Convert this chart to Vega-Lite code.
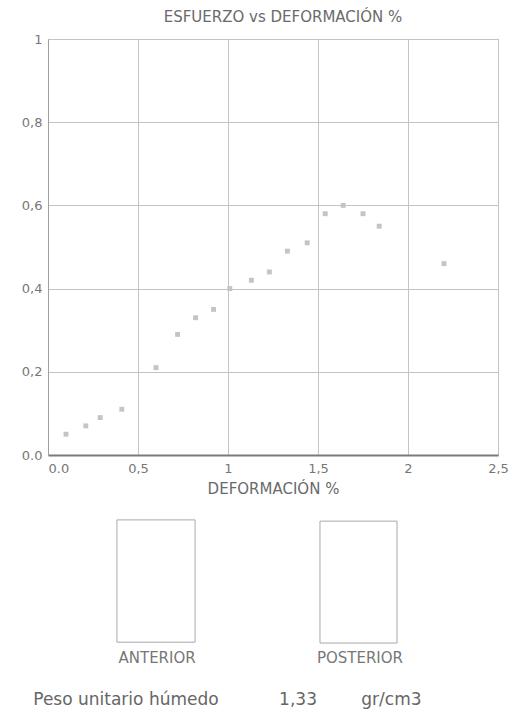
{
  "$schema": "https://vega.github.io/schema/vega-lite/v6.json",
  "width": 450,
  "height": 416,
  "autosize": {"type": "none"},
  "padding": {"left": 48, "top": 39, "right": 19, "bottom": 258},
  "background": "white",
  "config": {
    "view": {"stroke": "#9a9a9a", "strokeWidth": 1},
    "font": "DejaVu Sans"
  },
  "title": {
    "text": "ESFUERZO vs DEFORMACIÓN %",
    "font": "DejaVu Sans",
    "fontSize": 15,
    "fontWeight": "normal",
    "color": "#6a6a6a",
    "dx": 10,
    "offset": 8
  },
  "layer": [
    {
      "data": {
        "values": [
          {"def": 0.10, "esf": 0.05},
          {"def": 0.21, "esf": 0.07},
          {"def": 0.29, "esf": 0.09},
          {"def": 0.41, "esf": 0.11},
          {"def": 0.60, "esf": 0.21},
          {"def": 0.72, "esf": 0.29},
          {"def": 0.82, "esf": 0.33},
          {"def": 0.92, "esf": 0.35},
          {"def": 1.01, "esf": 0.40},
          {"def": 1.13, "esf": 0.42},
          {"def": 1.23, "esf": 0.44},
          {"def": 1.33, "esf": 0.49},
          {"def": 1.44, "esf": 0.51},
          {"def": 1.54, "esf": 0.58},
          {"def": 1.64, "esf": 0.60},
          {"def": 1.75, "esf": 0.58},
          {"def": 1.84, "esf": 0.55},
          {"def": 2.20, "esf": 0.46}
        ]
      },
      "mark": {"type": "point", "shape": "square", "filled": true, "size": 24, "color": "#c4c4c4", "opacity": 1},
      "encoding": {
        "x": {
          "field": "def",
          "type": "quantitative",
          "scale": {"domain": [0, 2.5], "nice": false, "zero": false},
          "axis": {
            "title": "DEFORMACIÓN %",
            "titleFont": "DejaVu Sans",
            "titleFontSize": 15,
            "titleFontWeight": "normal",
            "titleColor": "#6a6a6a",
            "titlePadding": 6,
            "values": [0, 0.5, 1, 1.5, 2, 2.5],
            "labelExpr": "datum.value == 0 ? '0.0' : replace(toString(datum.value), '.', ',')",
            "labelFont": "DejaVu Sans",
            "labelFontSize": 13,
            "labelColor": "#777777",
            "labelPadding": 7,
            "labelFlush": false,
            "labelAlign": {"condition": {"test": "datum.value == 0", "value": "left"}, "value": "center"},
            "ticks": false,
            "grid": true,
            "gridColor": "#c4c4c4",
            "domainColor": "#7a7a7a",
            "domainWidth": 2
          }
        },
        "y": {
          "field": "esf",
          "type": "quantitative",
          "scale": {"domain": [0, 1], "nice": false, "zero": false},
          "axis": {
            "title": null,
            "values": [0, 0.2, 0.4, 0.6, 0.8, 1],
            "labelExpr": "datum.value == 0 ? '0.0' : replace(toString(datum.value), '.', ',')",
            "labelFont": "DejaVu Sans",
            "labelFontSize": 13,
            "labelColor": "#777777",
            "labelPadding": 6,
            "ticks": false,
            "grid": true,
            "gridColor": "#c4c4c4",
            "domainColor": "#a0a0a0"
          }
        }
      }
    },
    {
      "data": {
        "values": [
          {"x1": 0.383, "x2": 0.817, "y1": -0.156, "y2": -0.450},
          {"x1": 1.511, "x2": 1.939, "y1": -0.159, "y2": -0.452}
        ]
      },
      "mark": {"type": "rect", "fill": null, "fillOpacity": 0, "stroke": "#a8a8a8", "strokeWidth": 1, "clip": false},
      "encoding": {
        "x": {"field": "x1", "type": "quantitative"},
        "x2": {"field": "x2"},
        "y": {"field": "y1", "type": "quantitative"},
        "y2": {"field": "y2"}
      }
    },
    {
      "data": {
        "values": [
          {"label": "ANTERIOR", "x": 0.606, "y": -0.488},
          {"label": "POSTERIOR", "x": 1.733, "y": -0.488}
        ]
      },
      "mark": {"type": "text", "font": "DejaVu Sans", "fontSize": 15, "color": "#777777", "align": "center", "baseline": "middle", "clip": false},
      "encoding": {
        "x": {"field": "x", "type": "quantitative"},
        "y": {"field": "y", "type": "quantitative"},
        "text": {"field": "label"}
      }
    },
    {
      "data": {
        "values": [
          {"label": "Peso unitario húmedo", "x": 0.433, "y": -0.589},
          {"label": "1,33", "x": 1.389, "y": -0.589},
          {"label": "gr/cm3", "x": 1.908, "y": -0.589}
        ]
      },
      "mark": {"type": "text", "font": "DejaVu Sans", "fontSize": 17, "color": "#666666", "align": "center", "baseline": "middle", "clip": false},
      "encoding": {
        "x": {"field": "x", "type": "quantitative"},
        "y": {"field": "y", "type": "quantitative"},
        "text": {"field": "label"}
      }
    }
  ]
}
